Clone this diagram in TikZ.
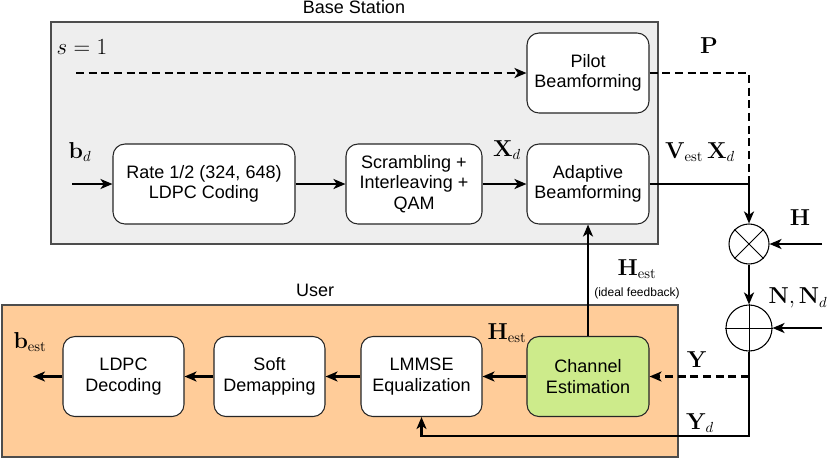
\documentclass[tikz,border=0pt]{standalone}
\usepackage[no-math]{fontspec}
\setmainfont{Liberation Sans}
\usetikzlibrary{arrows.meta}
\definecolor{bsfill}{HTML}{EEEEEE}
\definecolor{userfill}{HTML}{FFCC99}
\definecolor{estfill}{HTML}{CDEB8B}
\definecolor{frame}{HTML}{4D4D4D}
\begin{document}
\begin{tikzpicture}[x=0.75pt, y=-0.75pt,
  every node/.style={font=\fontsize{13.5}{15.5}\selectfont},
  blk/.style={draw=black!85, line width=0.8pt, fill=white, rounded corners=9pt,
    align=center, minimum height=80*0.75pt, inner sep=2pt},
  zone/.style={draw=frame, line width=1.6pt},
  arr/.style={line width=1.6pt, -{Stealth[length=9pt, width=7.5pt, inset=2.5pt]}},
  dline/.style={line width=1.6pt, dash pattern=on 6pt off 3.5pt},
  lbl/.style={font=\fontsize{16}{18}\selectfont, inner sep=0pt},
  op/.style={circle, draw, line width=0.8pt, fill=white, inner sep=0pt}]
  \useasboundingbox (0,0) rectangle (830,458);
  \draw[zone, fill=bsfill] (51,22) rectangle (658,244);
  \draw[zone, fill=userfill] (2,305) rectangle (678,457);
  \node at (354,7) {Base Station};
  \node at (315,290) {User};

  \node[blk, minimum width=122*0.75pt] (pilot) at (588,73) {Pilot\\Beamforming};
  \node[blk, minimum width=182*0.75pt] (rate) at (204,184) {Rate 1/2 (324, 648)\\LDPC Coding};
  \node[blk, minimum width=136*0.75pt] (scr) at (414,184) {Scrambling +\\Interleaving +\\QAM};
  \node[blk, minimum width=122*0.75pt] (adapt) at (588,184) {Adaptive\\Beamforming};
  \node[blk, minimum width=121*0.75pt] (ldpcdec) at (123.5,376.5) {LDPC\\Decoding};
  \node[blk, minimum width=111*0.75pt] (soft) at (269.5,376.5) {Soft\\Demapping};
  \node[blk, minimum width=121*0.75pt] (lmmse) at (421.5,376.5) {LMMSE\\Equalization};
  \node[blk, minimum width=122*0.75pt, fill=estfill] (chest) at (588,376.5) {Channel\\Estimation};

  \node[op, minimum size=40*0.75pt] (mult) at (749,244) {};
  \draw[line width=0.6pt] (mult.north east) -- (mult.south west)
    (mult.north west) -- (mult.south east);
  \node[op, minimum size=46*0.75pt] (add) at (749,328) {};
  \draw[line width=0.6pt] (add.west) -- (add.east) (add.north) -- (add.south);

  \coordinate (s1) at (76,73);
  \coordinate (bin) at (72,184);
  \coordinate (jn) at (749,184);
  \coordinate (hin) at (822,244);
  \coordinate (nin) at (822,328);
  \coordinate (ysplit) at (749,376.5);
  \coordinate (ydturn) at (749,436);
  \coordinate (bout) at (33,376.5);

  \draw[dline, -{Stealth[length=9pt, width=7.5pt, inset=2.5pt]}] (s1) -- (pilot);
  \draw[dline] (pilot.east) -| (jn);
  \draw[arr] (bin) -- (rate);
  \draw[arr] (rate) -- (scr);
  \draw[arr] (scr) -- (adapt);
  \draw[arr] (adapt.east) -- (jn) -- (mult.north);
  \draw[arr] (hin) -- (mult.east);
  \draw[arr] (mult.south) -- (add.north);
  \draw[arr] (nin) -- (add.east);
  \draw[line width=1.6pt] (add.south) -- (ysplit);
  \draw[dline, -{Stealth[length=9pt, width=7.5pt, inset=2.5pt]}] (ysplit) -- (chest.east);
  \draw[arr] (ysplit) -- (ydturn) -| (lmmse.south);
  \draw[arr] (chest.north) -- (adapt.south);
  \draw[arr] (chest) -- (lmmse);
  \draw[arr] (lmmse) -- (soft);
  \draw[arr] (soft) -- (ldpcdec);
  \draw[arr] (ldpcdec) -- (bout);

  \node[lbl] at (82,47) {$s=1$};
  \node[lbl] at (709,46) {$\mathbf{P}$};
  \node[lbl] at (80,152) {$\mathbf{b}_d$};
  \node[lbl] at (507,150) {$\mathbf{X}_d$};
  \node[lbl] at (700,152) {$\mathbf{V}_{\mathrm{est}}\,\mathbf{X}_d$};
  \node[lbl] at (800,218) {$\mathbf{H}$};
  \node[lbl] at (798,298) {$\mathbf{N},\mathbf{N}_d$};
  \node[lbl] at (637,269) {$\mathbf{H}_{\mathrm{est}}$};
  \node[font=\fontsize{9}{11}\selectfont] at (637,293) {(ideal feedback)};
  \node[lbl] at (507,333) {$\mathbf{H}_{\mathrm{est}}$};
  \node[lbl] at (697,360) {$\mathbf{Y}$};
  \node[lbl] at (700,423) {$\mathbf{Y}_d$};
  \node[lbl] at (30,342) {$\mathbf{b}_{\mathrm{est}}$};
\end{tikzpicture}
\end{document}
